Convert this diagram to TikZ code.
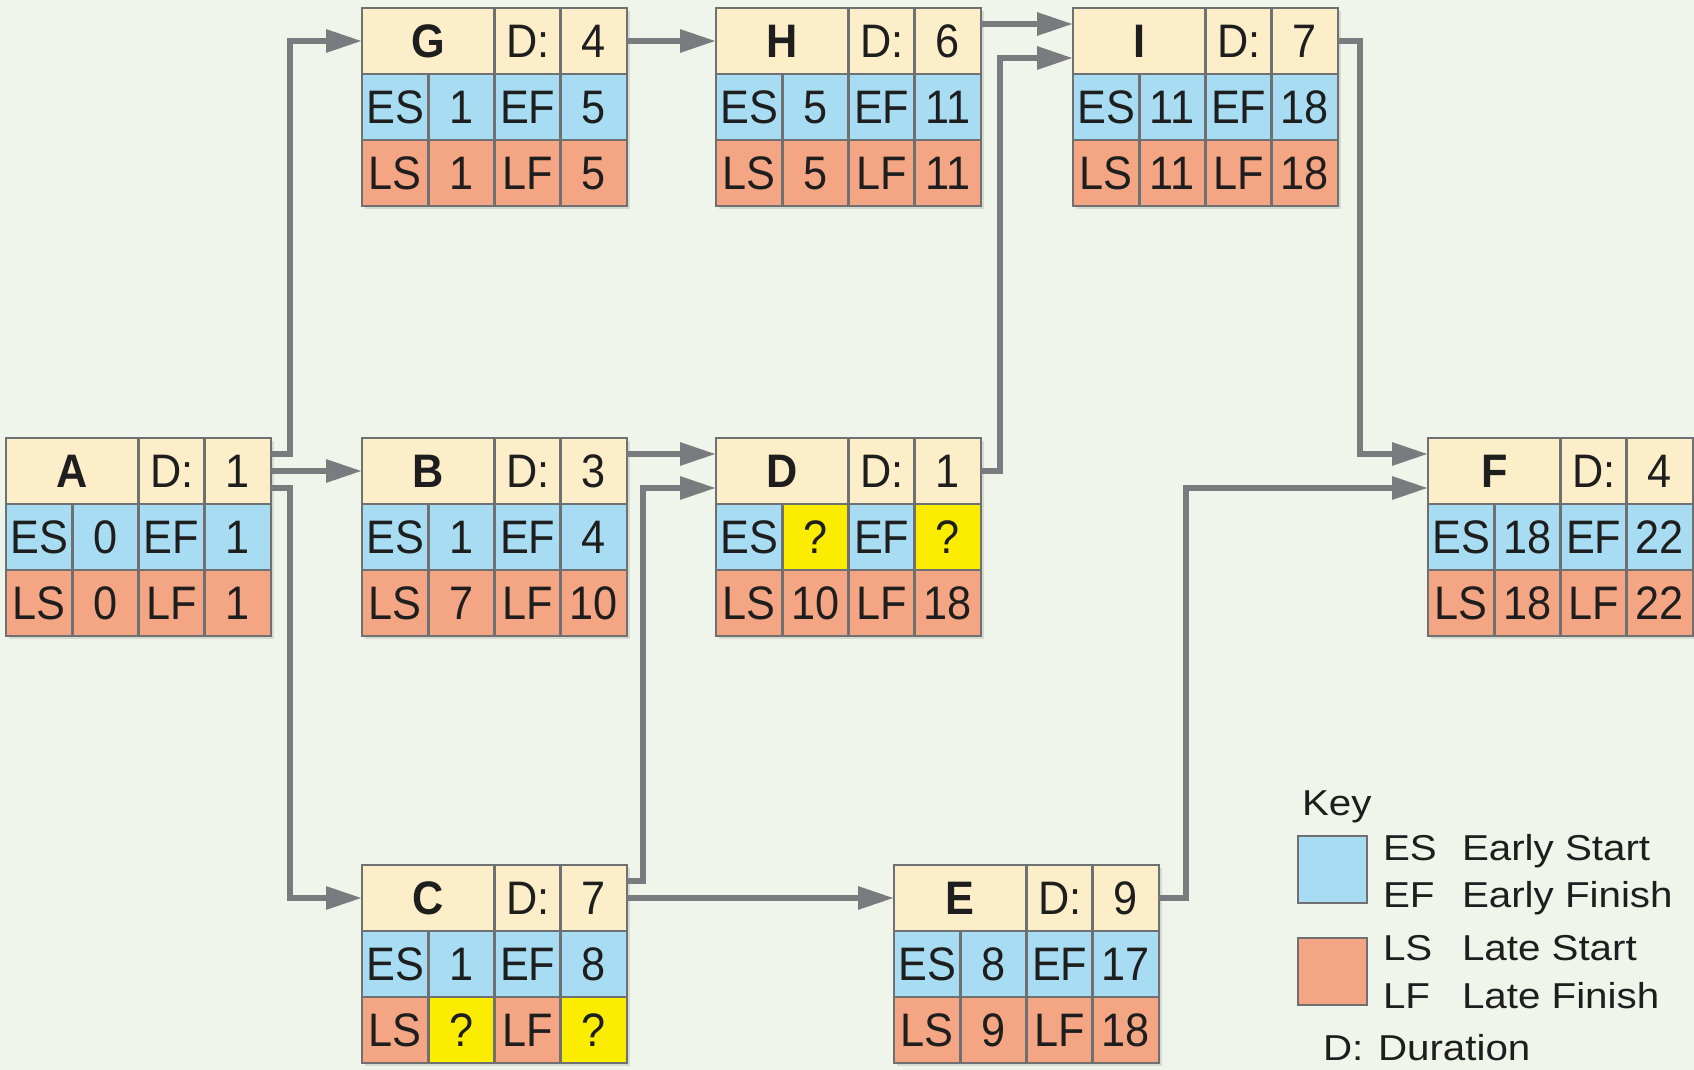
\documentclass[tikz,border=0pt]{standalone}
\usepackage{fontspec}
\setmainfont{Liberation Sans}
\newfontfamily\keyfont{Liberation Sans}[FakeStretch=1.12]
\newfontfamily\boxfont{Liberation Sans}[FakeStretch=0.92]
\usetikzlibrary{arrows.meta,shadows}

\definecolor{bgc}{HTML}{EFF5EA}
\definecolor{hdr}{HTML}{FCEEC8}
\definecolor{esc}{HTML}{A8DCF3}
\definecolor{lsc}{HTML}{F4A584}
\definecolor{qyel}{HTML}{FCEC00}
\definecolor{cellline}{HTML}{6F7072}
\definecolor{conncol}{HTML}{7A7B7E}
\definecolor{txt}{HTML}{1E1E1E}

\tikzset{
  cell/.style={draw=cellline, line width=1.3pt, minimum width=33.125pt,
    minimum height=33pt, inner sep=0pt, outer sep=0pt,
    font=\boxfont\fontsize{23.5}{23.5}\selectfont, text=txt,
    text height=16.8pt, text depth=0pt},
  boxshape/.style={minimum width=132.5pt, minimum height=99pt, inner sep=0pt,
    outer sep=0pt, fill=hdr,
    drop shadow={opacity=0.22, shadow xshift=1.5pt, shadow yshift=-1.5pt}},
  conn/.style={draw=conncol, line width=3pt,
    -{Triangle[length=18pt,width=11pt]}},
  keytxt/.style={inner sep=0pt, outer sep=0pt, text=txt,
    font=\keyfont\fontsize{18}{18}\selectfont},
  keysq/.style={draw=cellline, line width=1.3pt, inner sep=0pt, outer sep=0pt,
    minimum width=34.5pt, minimum height=33.5pt},
}

\def\qmark{?}
% value cell: yellow when the value is still unknown
\newcommand\vcell[4]{%
  \def\tmpv{#3}%
  \ifx\tmpv\qmark\def\tmpc{qyel}\else\def\tmpc{#4}\fi
  \node[cell, fill=\tmpc, anchor=north west] (#1) at (#2) {#3};}

% one activity box: id, x, y, label, duration, ES, EF, LS, LF
\newcommand\activity[9]{%
  \node[boxshape, anchor=north west] (#1) at (#2,#3) {};
  \node[cell, fill=hdr, minimum width=66.25pt, anchor=north west,
        font=\boxfont\fontsize{23.5}{23.5}\selectfont\bfseries] (#1-n) at (#1.north west) {#4};
  \node[cell, fill=hdr, anchor=north west] (#1-d) at (#1-n.north east) {D:};
  \node[cell, fill=hdr, anchor=north west] (#1-dv) at (#1-d.north east) {#5};
  \node[cell, fill=esc, anchor=north west] (#1-es) at (#1-n.south west) {ES};
  \vcell{#1-esv}{#1-es.north east}{#6}{esc}
  \node[cell, fill=esc, anchor=north west] (#1-ef) at (#1-esv.north east) {EF};
  \vcell{#1-efv}{#1-ef.north east}{#7}{esc}
  \node[cell, fill=lsc, anchor=north west] (#1-ls) at (#1-es.south west) {LS};
  \vcell{#1-lsv}{#1-ls.north east}{#8}{lsc}
  \node[cell, fill=lsc, anchor=north west] (#1-lf) at (#1-lsv.north east) {LF};
  \vcell{#1-lfv}{#1-lf.north east}{#9}{lsc}
}

\begin{document}
\begin{tikzpicture}[x=0.5pt, y=-0.5pt]
  \fill[bgc] (0,0) rectangle (1694,1070);
  \useasboundingbox (0,0) rectangle (1694,1070);

  % activities
  \activity{A}{6}{438}{A}{1}{0}{1}{0}{1}
  \activity{G}{362}{8}{G}{4}{1}{5}{1}{5}
  \activity{H}{716}{8}{H}{6}{5}{11}{5}{11}
  \activity{I}{1073}{8}{I}{7}{11}{18}{11}{18}
  \activity{B}{362}{438}{B}{3}{1}{4}{7}{10}
  \activity{D}{716}{438}{D}{1}{?}{?}{10}{18}
  \activity{F}{1428}{438}{F}{4}{18}{22}{18}{22}
  \activity{C}{362}{865}{C}{7}{1}{8}{?}{?}
  \activity{E}{894}{865}{E}{9}{8}{17}{9}{18}

  % precedence connectors
  \draw[conn] ([yshift=-8pt]A.north east) -- ++(9.5pt,0) |- ([yshift=-16.5pt]G.north west);
  \draw[conn] ([yshift=-16.5pt]A.north east) -- ([yshift=-16.5pt]B.north west);
  \draw[conn] ([yshift=-25pt]A.north east) -- ++(9.5pt,0) |- ([yshift=-16.5pt]C.north west);
  \draw[conn] ([yshift=-16.5pt]G.north east) -- ([yshift=-16.5pt]H.north west);
  \draw[conn] ([yshift=-8pt]H.north east) -- ([yshift=-8pt]I.north west);
  \draw[conn] ([yshift=-8pt]B.north east) -- ([yshift=-8pt]D.north west);
  \draw[conn] ([yshift=-16.5pt]D.north east) -- ++(9.5pt,0) |- ([yshift=-25pt]I.north west);
  \draw[conn] ([yshift=-8pt]C.north east) -- ++(8pt,0) |- ([yshift=-25pt]D.north west);
  \draw[conn] ([yshift=-16.5pt]C.north east) -- ([yshift=-16.5pt]E.north west);
  \draw[conn] ([yshift=-16.5pt]I.north east) -- ++(11pt,0) |- ([yshift=-8pt]F.north west);
  \draw[conn] ([yshift=-16.5pt]E.north east) -- ++(13.5pt,0) |- ([yshift=-25pt]F.north west);

  % key
  \node[keytxt, anchor=base west] (keyt) at (1302,815) {Key};
  \node[keysq, fill=esc, anchor=north west] (keyb) at (1298,836) {};
  \node[keysq, fill=lsc, anchor=north west] (keyo) at (1298,938) {};
  \node[keytxt, anchor=base west] (k1a) at (1383,860) {ES};
  \node[keytxt, anchor=base west] (k1b) at (1462,860) {Early Start};
  \node[keytxt, anchor=base west] (k2a) at (1383,907) {EF};
  \node[keytxt, anchor=base west] (k2b) at (1462,907) {Early Finish};
  \node[keytxt, anchor=base west] (k3a) at (1383,960) {LS};
  \node[keytxt, anchor=base west] (k3b) at (1462,960) {Late Start};
  \node[keytxt, anchor=base west] (k4a) at (1383,1008) {LF};
  \node[keytxt, anchor=base west] (k4b) at (1462,1008) {Late Finish};
  \node[keytxt, anchor=base west] (k5a) at (1323,1060) {D:};
  \node[keytxt, anchor=base west] (k5b) at (1378,1060) {Duration};
\end{tikzpicture}
\end{document}
